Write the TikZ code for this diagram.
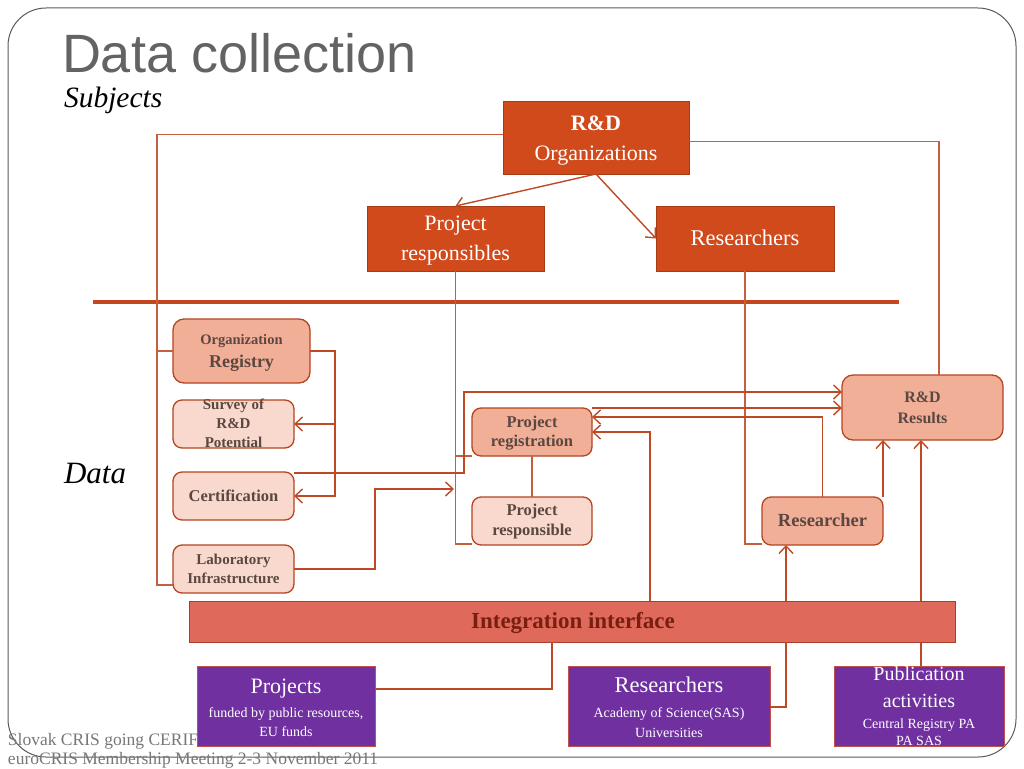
\documentclass[tikz,border=0pt]{standalone}
\usepackage{fontspec}
\setmainfont{Liberation Serif}
\newfontfamily\titlefont{Liberation Sans}
\usetikzlibrary{arrows.meta,calc,backgrounds}
\definecolor{dorange}{HTML}{D04A1C}
\definecolor{salmon}{HTML}{F2AF98}
\definecolor{lsalmon}{HTML}{F9D8CD}
\definecolor{bordr}{HTML}{B5441F}
\definecolor{conn}{HTML}{BE4A25}
\definecolor{lconn}{HTML}{C4603F}
\definecolor{sepc}{HTML}{C4461E}
\definecolor{integc}{HTML}{DF6A5B}
\definecolor{integb}{HTML}{A5402C}
\definecolor{integt}{HTML}{7A1E10}
\definecolor{purp}{HTML}{7030A0}
\definecolor{purpb}{HTML}{C0504D}
\definecolor{btext}{HTML}{5A4840}
\definecolor{titleg}{HTML}{636363}
\definecolor{footg}{HTML}{777777}
\definecolor{framec}{HTML}{5A5A5A}
\newcommand{\fsz}[2]{\fontsize{#1}{#2}\selectfont}
\newcommand{\mtext}[2]{\begin{minipage}[t]{#1}\centering #2\end{minipage}}
\begin{document}
\begin{tikzpicture}[x=1pt,y=-1pt,
  subj/.style={fill=dorange, draw=dorange!80!black, line width=0.8pt, inner sep=0, outer sep=0},
  dat/.style={fill=salmon, draw=bordr, line width=1.3pt, rounded corners=9pt, inner sep=0, outer sep=0},
  ldat/.style={dat, fill=lsalmon},
  src/.style={fill=purp, draw=purpb, line width=0.8pt, inner sep=0, outer sep=0},
  bar/.style={fill=integc, draw=integb, line width=1pt, inner sep=0, outer sep=0},
  txt/.style={inner sep=0, outer sep=0, anchor=base},
  ln/.style={draw=lconn, line width=1.2pt},
  cn/.style={draw=conn, line width=1.4pt},
  arr/.style={cn, -{Straight Barb[length=7.5pt,width=14pt]}},
]
\useasboundingbox (0,0) rectangle (1024,768);
\draw[framec, line width=1pt, rounded corners=38pt] (8,8) rectangle (1016,757);

% footer
\node[txt, anchor=base west, text=footg] (foot1) at (8,745) {\fsz{17.5}{20}Slovak CRIS going CERIF};
\node[txt, anchor=base west, text=footg] (foot2) at (8,764) {\fsz{17.5}{20}euroCRIS Membership Meeting 2-3 November 2011};

% titles
\node[txt, anchor=base west, text=titleg] (title) at (62,72) {\titlefont\fsz{54}{60}Data collection};
\node[txt, anchor=base west] (subjects) at (64,107) {\fsz{29.5}{32}\itshape Subjects};
\node[txt, anchor=base west] (datalbl) at (64,483) {\fsz{31}{34}\itshape Data};

% separator
\coordinate (sepl) at (93,302);
\coordinate (sepr) at (899,302);
\draw[draw=sepc, line width=4pt] (sepl) -- (sepr);

% subject boxes
\node[subj, minimum width=186pt, minimum height=73pt] (rdorg) at (596,137.5) {};
\node[subj, minimum width=177pt, minimum height=65pt] (pr) at (455.5,238.5) {};
\node[subj, minimum width=178pt, minimum height=65pt] (rs) at (745,238.5) {};
\node[txt, text=white] (rdorgt) at (596,130) {\mtext{180pt}{\fsz{22}{30}\bfseries R\&D\\\mdseries Organizations}};
\node[txt, text=white] (prt) at (455.5,230) {\mtext{175pt}{\fsz{22}{30}Project\\responsibles}};
\node[txt, text=white] (rst) at (745,245) {\fsz{22.5}{30}Researchers};

% data boxes
\node[dat, rounded corners=11pt, minimum width=137pt, minimum height=64pt] (orgreg) at (241.5,351) {};
\node[ldat, minimum width=121pt, minimum height=48pt] (survey) at (233.5,424) {};
\node[ldat, minimum width=121pt, minimum height=48pt] (cert) at (233.5,496) {};
\node[ldat, minimum width=121pt, minimum height=48pt] (lab) at (233.5,569) {};
\node[dat, minimum width=120pt, minimum height=48pt] (preg) at (532,432) {};
\node[ldat, minimum width=120pt, minimum height=48pt] (presp) at (532,521) {};
\node[dat, rounded corners=11pt, minimum width=161pt, minimum height=65pt] (results) at (922.5,407.5) {};
\node[dat, minimum width=121pt, minimum height=48pt] (researcher) at (822.5,521) {};

\node[txt, text=btext] (orgregt) at (241.5,344) {\mtext{135pt}{\bfseries\fsz{14.5}{23}Organization\\\fsz{18}{23}Registry}};
\node[txt, text=btext] (surveyt) at (233.5,409) {\mtext{120pt}{\bfseries\fsz{15}{19}Survey of\\R\&D\\Potential}};
\node[txt, text=btext] (certt) at (233.5,501) {\fsz{16.5}{19}\bfseries Certification};
\node[txt, text=btext] (labt) at (233.5,564) {\mtext{120pt}{\bfseries\fsz{15}{19}Laboratory\\Infrastructure}};
\node[txt, text=btext] (pregt) at (532,427) {\mtext{120pt}{\bfseries\fsz{16.5}{19}Project\\registration}};
\node[txt, text=btext] (prespt) at (532,515) {\mtext{120pt}{\bfseries\fsz{16.5}{20}Project\\responsible}};
\node[txt, text=btext] (resultst) at (922.5,402) {\mtext{150pt}{\bfseries\fsz{16}{21}R\&D\\Results}};
\node[txt, text=btext] (researchert) at (822.5,526) {\fsz{18.5}{20}\bfseries Researcher};

% integration bar
\node[bar, minimum width=766pt, minimum height=41pt] (integ) at (572,621.5) {};
\node[txt, text=integt] (integt) at (573,628) {\fsz{23}{26}\bfseries Integration interface};

% source boxes
\node[src, minimum width=178pt, minimum height=80pt] (proj) at (286,706) {};
\node[src, minimum width=202pt, minimum height=80pt] (resb) at (669,706) {};
\node[src, minimum width=170pt, minimum height=80pt] (pub) at (919,706) {};
\node[txt, text=white] (projt) at (286,693) {\mtext{176pt}{\fsz{22}{24}Projects\par\vspace{5pt}\fsz{14}{19}funded by public resources,\\EU funds}};
\node[txt, text=white] (resbt) at (669,692) {\mtext{200pt}{\fsz{22.5}{25}Researchers\par\vspace{5pt}\fsz{14}{20}Academy of Science(SAS)\\Universities}};
\node[txt, text=white] (pubt) at (919,680) {\mtext{168pt}{\fsz{20}{27}Publication\\activities\par\vspace{4pt}\fsz{14}{17}Central Registry PA\\PA SAS}};

% thin links
\coordinate (lx1) at ($(lab.south west)+(-16,-8)$);
\draw[ln] ($(rdorg.west)+(0,-3)$) -| (lx1) -- ($(lab.south west)+(0,-8)$);
\draw[ln] (orgreg.west) -- (orgreg.west -| lx1);
\draw[ln] ($(rdorg.east)+(0,4)$) -| ($(results.north)+(16.5,0)$);
\draw[ln] (pr.south) |- ($(presp.south west)+(0,-1)$);
\draw[ln] (preg.south west) -- (preg.south west -| pr.south);
\draw[ln] (rs.south) |- ($(researcher.south west)+(0,-1)$);
\draw[ln] (preg) -- (presp);

% arrows
\draw[arr] (rdorg.south) -- (pr.north);
\draw[arr] (rdorg.south) -- (rs.west);
\draw[arr] (orgreg.east) -| ($(cert.east)+(41,0)$) -- (cert.east);
\draw[arr] ($(survey.east)+(41,0)$) -- (survey.east);
\draw[arr] ($(cert.north east)+(0,1)$) -- ++(170,0) |- ($(results.west)+(0,-15.5)$);
\coordinate (labin) at (454,489);
\draw[arr] (lab.east) -- ++(81,0) |- (labin);
\draw[arr] (preg.north east) -- (preg.north east -| results.west);
\draw[arr] (researcher.north) |- ($(preg.east)+(0,-15)$);
\draw[arr] ($(integ.north west)+(461,0)$) |- (preg.east);
\draw[arr] ($(integ.north west)+(597,0)$) -- ($(researcher.south west)+(24,0)$);
\draw[arr] (researcher.north east) -- (researcher.north east |- results.south);
\begin{pgfonlayer}{background}
\draw[arr] ($(pub.north)+(2,0)$) -- ($(results.south)+(-1.5,0)$);
\end{pgfonlayer}
\draw[cn] ($(resb.east)+(0,1)$) -| ($(integ.south west)+(597,0)$);
\draw[cn] ($(proj.east)+(0,-17)$) -| ($(integ.south west)+(363,0)$);
\end{tikzpicture}
\end{document}
